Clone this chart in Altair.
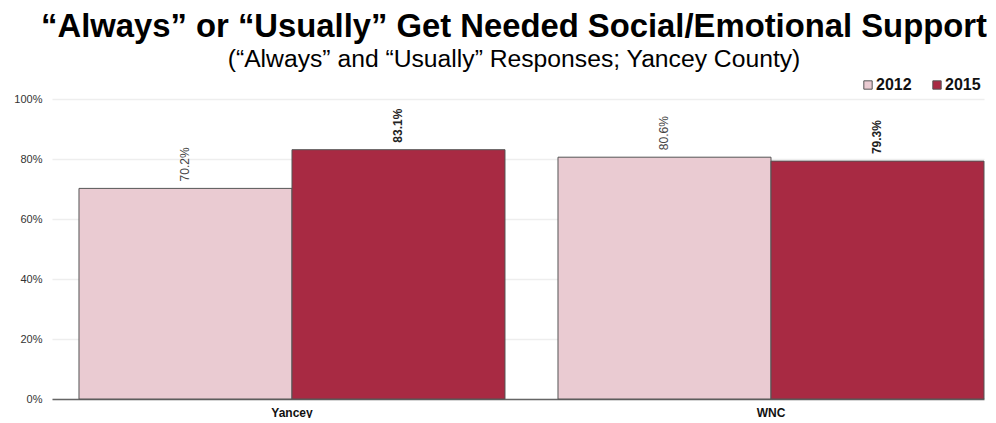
import altair as alt
import pandas as pd

regions = ["Yancey", "Yancey", "WNC", "WNC"]
years = ["2012", "2015", "2012", "2015"]
values = [0.702, 0.831, 0.806, 0.793]
labels = ["70.2%", "83.1%", "80.6%", "79.3%"]

df = pd.DataFrame({"region": regions, "year": years, "value": values, "label": labels})

FONT = "Liberation Sans"
colors = ["#EACBD2", "#A82A43"]

xscale = alt.Scale(domain=["Yancey", "WNC"], paddingInner=0.11065, paddingOuter=0.02818, align=1.0)

base = alt.Chart(df).encode(
    x=alt.X("region:N", scale=xscale, sort=["Yancey", "WNC"],
            axis=alt.Axis(title=None, labelAngle=0, labelFont=FONT, labelFontSize=12,
                          labelFontWeight="bold", labelColor="#111", ticks=False,
                          domainColor="#666", domainWidth=1.5, labelPadding=8)),
    xOffset=alt.XOffset("year:N", sort=["2012", "2015"]),
)

bars = base.mark_bar(stroke="#555", strokeWidth=1).encode(
    y=alt.Y("value:Q", scale=alt.Scale(domain=[0, 1]),
            axis=alt.Axis(title=None, format=".0%", values=[0, 0.2, 0.4, 0.6, 0.8, 1.0],
                          labelFont=FONT, labelFontSize=11, labelColor="#333",
                          ticks=False, domain=False, gridColor="#eeeeee", gridWidth=1.5,
                          labelPadding=10)),
    color=alt.Color("year:N", scale=alt.Scale(domain=["2012", "2015"], range=colors),
                    legend=alt.Legend(title=None, orient="none", direction="horizontal",
                                      legendX=808, legendY=-22, symbolType="square",
                                      symbolSize=70, symbolStrokeColor="#555",
                                      symbolStrokeWidth=1, labelFont=FONT, labelFontSize=16,
                                      labelFontWeight="bold", labelColor="#111",
                                      columnPadding=17, labelOffset=0)),
)

text12 = base.transform_filter(alt.datum.year == "2012").mark_text(
    angle=270, align="left", baseline="middle", dx=7, font=FONT, fontSize=12,
    color="#444").encode(y="value:Q", text="label:N")

text15 = base.transform_filter(alt.datum.year == "2015").mark_text(
    angle=270, align="left", baseline="middle", dx=7, font=FONT, fontSize=12,
    fontWeight="bold", color="#222").encode(y="value:Q", text="label:N")

chart = alt.layer(bars, text12, text15).properties(
    width=932, height=300,
    title=alt.TitleParams(
        text="“Always” or “Usually” Get Needed Social/Emotional Support",
        subtitle="(“Always” and “Usually” Responses; Yancey County)",
        font=FONT, fontSize=32.8, fontWeight="bold", color="#000",
        subtitleFont=FONT, subtitleFontSize=24.7, subtitleColor="#000",
        anchor="middle", dx=-4, offset=5, subtitlePadding=4),
    padding={"left": 5, "top": 2, "right": 0, "bottom": 0},
).configure_view(stroke=None)

chart.save("out.html", embed_options={"renderer": "svg", "actions": False})
